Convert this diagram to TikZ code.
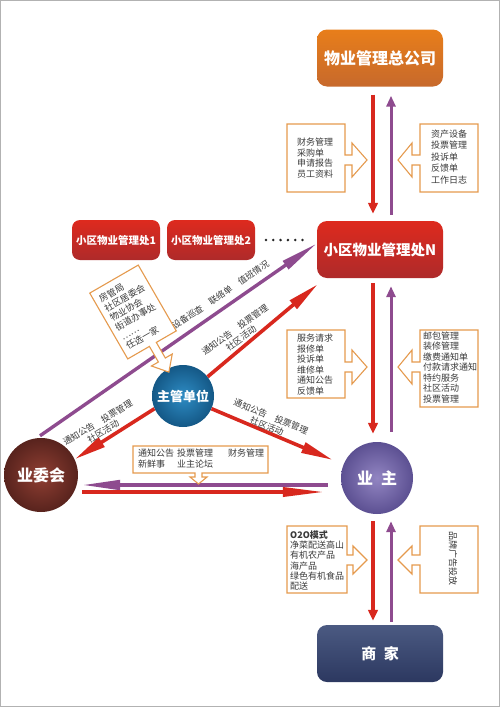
\documentclass[tikz,border=0pt]{standalone}
\usepackage{fontspec}
\setmainfont{Noto Sans CJK SC}
\usetikzlibrary{arrows.meta,calc}
\definecolor{redC}{HTML}{D8281E}
\definecolor{purpC}{HTML}{8E4B8F}
\definecolor{orangeC}{HTML}{E59A4E}
\definecolor{textC}{HTML}{3A3A3A}
\definecolor{orgT}{HTML}{E87E1A}
\definecolor{orgB}{HTML}{C7692C}
\definecolor{redT}{HTML}{DE2A1E}
\definecolor{redB}{HTML}{AE2A2A}
\definecolor{navyT}{HTML}{4B5A82}
\definecolor{navyB}{HTML}{2C3860}
\definecolor{ownIn}{HTML}{9285C2}
\definecolor{ownOut}{HTML}{5C5092}
\definecolor{comIn}{HTML}{903F33}
\definecolor{comOut}{HTML}{58231D}
\definecolor{autIn}{HTML}{2E8CC4}
\definecolor{autOut}{HTML}{145886}
\begin{document}
\begin{tikzpicture}[x=1pt,y=-1pt,
  bigbox/.style={rounded corners=10pt, minimum width=126pt, minimum height=57pt, text=white, inner sep=0pt, font=\fontsize{16}{19}\selectfont\bfseries},
  smallbox/.style={rounded corners=8pt, minimum width=88pt, minimum height=40pt, text=white, inner sep=0pt, top color=redT, bottom color=redB, font=\fontsize{10.5}{12}\selectfont\bfseries},
  ball/.style={circle, inner sep=0pt, text=white, shading=radial},
  callout/.style={draw=orangeC, line width=1.1pt, fill=white, line join=miter},
  ctext/.style={font=\fontsize{9}{10.8}\selectfont, text=textC, align=left, inner sep=0pt},
  ltext/.style={font=\fontsize{8.8}{10.5}\selectfont, text=textC, align=center, inner sep=0pt},
  redarr/.style={draw=redC, line width=3.4pt, -{Triangle[length=11pt,width=9.5pt]}},
  purarr/.style={draw=purpC, line width=3pt, -{Triangle[length=11pt,width=9pt]}},
  redlong/.style={draw=redC, line width=3.6pt, -{Triangle[length=32pt,width=10.5pt]}},
  purlong/.style={draw=purpC, line width=3.4pt, -{Triangle[length=38pt,width=9.5pt]}},
  redhz/.style={draw=redC, line width=3.6pt, -{Triangle[length=42pt,width=9pt]}}
]
\useasboundingbox (0,0) rectangle (500,707);
\fill[white] (0,0) rectangle (500,707);
\draw[black!30, line width=1pt] (0.5,0.5) rectangle (499.5,706.5);

% boxes
\node[bigbox, top color=orgT, bottom color=orgB] (hq) at (380,58) {物业管理总公司};
\node[bigbox, top color=redT, bottom color=redB, font=\fontsize{14.5}{17}\selectfont\bfseries] (pmN) at (380,249.5) {小区物业管理处N};
\node[smallbox] (pm1) at (116,240) {小区物业管理处1};
\node[smallbox] (pm2) at (211,240) {小区物业管理处2};
\foreach \i in {0,...,5} \fill[black!85] (266+\i*7.3,240) circle (1.4pt);
\node[bigbox, top color=navyT, bottom color=navyB, font=\fontsize{15}{18}\selectfont\bfseries] (shop) at (380,653.5) {商\hspace{0.5em}家};

% circles
\node[ball, minimum size=72pt, inner color=ownIn, outer color=ownOut, font=\fontsize{16}{19}\selectfont\bfseries] (owner) at (377,478) {业\hspace{0.5em}主};
\node[ball, minimum size=74pt, inner color=comIn, outer color=comOut, font=\fontsize{16}{19}\selectfont\bfseries] (comm) at (41,475) {业委会};
\node[ball, minimum size=62pt, inner color=autIn, outer color=autOut, font=\fontsize{13}{16}\selectfont\bfseries] (auth) at (183,396) {主管单位};

% vertical arrows
\draw[redarr] ($(hq.south)+(-7,8)$) -- ($(pmN.north)+(-7,-7)$);
\draw[purarr] ($(pmN.north)+(11,-6)$) -- ($(hq.south)+(11,9)$);
\draw[redarr] ($(pmN.south)+(-7,5)$) -- ($(owner.north)+(-4,-8)$);
\draw[purarr] ($(owner.north)+(14,-10)$) -- ($(pmN.south)+(11,8)$);
\draw[redarr] ($(owner.south)+(-4,7)$) -- ($(shop.north)+(-7,-4)$);
\draw[purarr] ($(shop.north)+(11,-3)$) -- ($(owner.south)+(14,7)$);

% horizontal arrows
\draw[purlong] ($(owner.west)+(-13,7)$) -- ($(comm.east)+(4,10)$);
\draw[redhz] ($(comm.east)+(4,17)$) -- ($(owner.west)+(-16,14)$);

% diagonal arrows
\draw[purlong] ($(comm.north)+(-1,-2)$) -- ($(pmN.west)+(0,-6)$);
\draw[redlong] (auth.38) -- ($(pmN.south west)+(1,6)$);
\draw[redlong] (auth.204) -- (comm.25);
\draw[redlong] (auth.-24) -- ($(owner.west)+(-8,-18)$);

% labels along arrows
\node[ltext, rotate=34] (lblP) at (220.5,295) {设备巡查\quad 联络单\quad 值班情况};
\node[ltext, rotate=36] (lblN) at (238,334) {通知公告\quad 投票管理\\社区活动};
\node[ltext, rotate=31] (lblC) at (100.5,427) {通知公告\quad 投票管理\\社区活动};
\node[ltext, rotate=-22] (lblO) at (269,421.5) {通知公告\quad 投票管理\\社区活动};

% callout 1 (right pointing)
\draw[callout] (287,124) -- (345,124) -- (345,155) -- (352,155) -- (352,143) -- (367,160) -- (352,177) -- (352,165) -- (345,165) -- (345,192) -- (287,192) -- cycle;
\node[ctext, anchor=west] (c1) at (297,158) {财务管理\\采购单\\申请报告\\员工资料};
% callout 2 (left pointing)
\draw[callout] (478,124) -- (420,124) -- (420,155) -- (412,155) -- (412,143) -- (398,160) -- (412,177) -- (412,165) -- (420,165) -- (420,192) -- (478,192) -- cycle;
\node[ctext, anchor=west, font=\fontsize{9}{11.5}\selectfont] (c2) at (431,157) {资产设备\\投票管理\\投诉单\\反馈单\\工作日志};
% callout 3
\draw[callout] (287,330) -- (345,330) -- (345,362) -- (352,362) -- (352,350) -- (367,367) -- (352,384) -- (352,372) -- (345,372) -- (345,398) -- (287,398) -- cycle;
\node[ctext, anchor=west, font=\fontsize{9}{10.6}\selectfont] (c3) at (297,364.5) {服务请求\\报修单\\投诉单\\维修单\\通知公告\\反馈单};
% callout 4
\draw[callout] (478,330) -- (420,330) -- (420,362) -- (412,362) -- (412,350) -- (398,367) -- (412,384) -- (412,372) -- (420,372) -- (420,407) -- (478,407) -- cycle;
\node[ctext, anchor=west, font=\fontsize{9}{10.5}\selectfont] (c4) at (423,367.5) {邮包管理\\装修管理\\缴费通知单\\付款请求通知\\特约服务\\社区活动\\投票管理};
% callout 5
\draw[callout] (287,526) -- (347,526) -- (347,555) -- (353,555) -- (353,546) -- (367,560) -- (353,574) -- (353,565) -- (347,565) -- (347,593) -- (287,593) -- cycle;
\node[ctext, anchor=west, font=\fontsize{9}{10.2}\selectfont] (c5) at (290,560.5) {\textbf{O2O模式}\\净菜配送高山\\有机农产品\\海产品\\绿色有机食品\\配送};
% callout 6
\draw[callout] (478,526) -- (420,526) -- (420,555) -- (412,555) -- (412,546) -- (398,560) -- (412,574) -- (412,565) -- (420,565) -- (420,593) -- (478,593) -- cycle;
\node[ctext, rotate=-90] (c6) at (453,558) {品牌广告投放};
% callout 7 (down pointing)
\draw[callout] (133,446) -- (268,446) -- (268,473) -- (202,473) -- (202,477) -- (207,477) -- (198.5,484) -- (190,477) -- (195,477) -- (195,473) -- (133,473) -- cycle;
\node[ctext, anchor=west] (c7a) at (138,453.5) {通知公告};
\node[ctext, anchor=west] (c7b) at (177,453.5) {投票管理};
\node[ctext, anchor=west] (c7c) at (228,453.5) {财务管理};
\node[ctext, anchor=west] (c7d) at (138,464.5) {新鲜事};
\node[ctext, anchor=west] (c7e) at (177,464.5) {业主论坛};

% rotated callout toward 主管单位
\begin{scope}[shift={(133,312)}, rotate=30]
\draw[callout] (-28,-38) -- (28,-38) -- (28,38) -- (5,38) -- (5,56) -- (13,56) -- (1,70) -- (-11,56) -- (-3,56) -- (-3,38) -- (-28,38) -- cycle;
\node[ctext, transform shape, anchor=west] (agency) at (-23,0) {房管局\\社区居委会\\物业协会\\街道办事处\\……\\任选一家};
\end{scope}
\end{tikzpicture}
\end{document}
